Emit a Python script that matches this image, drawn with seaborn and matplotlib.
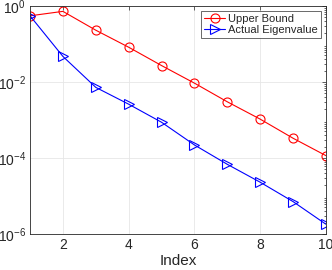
import numpy as np
import pandas as pd
import matplotlib
matplotlib.use('Agg')
from matplotlib import pyplot as plt
import seaborn as sns

index = [1, 2, 3, 4, 5, 6, 7, 8, 9, 10]
upper_bound = [0.55, 0.72, 0.23, 0.082, 0.027, 0.0093, 0.003, 0.00105, 0.00033, 0.000115]
actual_eig = [0.55, 0.047, 0.0072, 0.0026, 0.00087, 0.00022, 0.000068, 0.000023, 0.0000071, 0.0000018]

sns.set_style('white')
plt.rcParams['font.family'] = ['Liberation Sans', 'DejaVu Sans']

fig = plt.figure(figsize=(3.32, 2.70), dpi=100)
ax = fig.add_axes([0.0904, 0.1333, 0.8916, 0.8447])

df = pd.DataFrame({'Index': index, 'Upper Bound': upper_bound, 'Actual Eigenvalue': actual_eig})

sns.lineplot(data=df, x='Index', y='Upper Bound', ax=ax, color='red', marker='o',
             markersize=6.5, markerfacecolor='none', markeredgecolor='red',
             markeredgewidth=0.8, linewidth=0.8, label='Upper Bound')
sns.lineplot(data=df, x='Index', y='Actual Eigenvalue', ax=ax, color='blue', marker='>',
             markersize=6.5, markerfacecolor='none', markeredgecolor='blue',
             markeredgewidth=0.8, linewidth=0.8, label='Actual Eigenvalue')

ax.set_yscale('log')
ax.set_xlim(1, 10)
ax.set_ylim(1e-6, 1e0)
ax.set_xticks([2, 4, 6, 8, 10])
ax.set_yticks([1e-6, 1e-4, 1e-2, 1e0])
ax.set_yticklabels(['$\\mathregular{10^{-6}}$', '$\\mathregular{10^{-4}}$',
                    '$\\mathregular{10^{-2}}$', '$\\mathregular{10^{0}}$'])
ax.yaxis.set_minor_locator(matplotlib.ticker.LogLocator(base=10, subs=np.arange(2, 10), numticks=20))
ax.yaxis.set_minor_formatter(matplotlib.ticker.NullFormatter())

ax.grid(True, which='major', color='#e6e6e6', linewidth=0.6)
ax.set_axisbelow(True)
ax.tick_params(which='both', direction='in', top=True, right=True, labelsize=10,
               color='#262626', width=0.5, pad=3)
ax.tick_params(which='major', length=3)
ax.tick_params(which='minor', length=1.8)
for s in ax.spines.values():
    s.set_color('#262626')
    s.set_linewidth(0.6)

ax.set_xlabel('Index', fontsize=11, labelpad=1)
ax.set_ylabel('')

leg = ax.legend(loc='upper right', fontsize=8, frameon=True, fancybox=False,
                borderpad=0.25, labelspacing=0.15, handlelength=1.9, handletextpad=0.3,
                borderaxespad=0.45)
leg.get_frame().set_edgecolor('#262626')
leg.get_frame().set_linewidth(0.6)

fig.savefig('out.png', dpi=100)
